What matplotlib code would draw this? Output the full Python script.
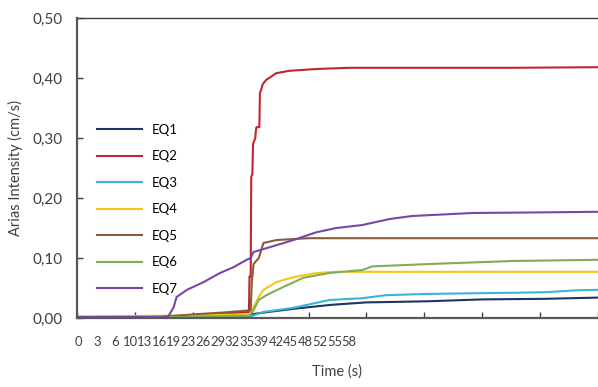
import matplotlib
matplotlib.use('Agg')
import matplotlib.pyplot as plt
from matplotlib.ticker import FuncFormatter

plt.rcParams['font.family'] = ['Lato', 'DejaVu Sans']

# Arias intensity build-up for each record, sampled at irregular steps
eq1_t = [0, 100, 200, 290, 300, 330, 380, 440, 500, 560, 610, 700, 810, 900]
eq1_ia = [0.001, 0.001, 0.002, 0.003, 0.006, 0.010, 0.016, 0.022, 0.026, 0.027, 0.028, 0.031, 0.032, 0.034]

eq2_t = [0, 150, 250, 297, 298, 300, 301, 303, 304, 308, 309, 310, 315, 316, 318, 321, 327, 335, 344, 367, 413, 471, 600, 750, 900]
eq2_ia = [0.000, 0.002, 0.007, 0.010, 0.069, 0.069, 0.235, 0.240, 0.290, 0.300, 0.313, 0.318, 0.318, 0.375, 0.380, 0.390,
          0.397, 0.402, 0.408, 0.412, 0.415, 0.417, 0.417, 0.417, 0.418]

eq3_t = [0, 200, 298, 322, 374, 436, 493, 534, 600, 666, 750, 810, 860, 900]
eq3_ia = [0.000, 0.001, 0.002, 0.010, 0.017, 0.030, 0.033, 0.038, 0.040, 0.041, 0.042, 0.043, 0.046, 0.047]

eq4_t = [0, 160, 200, 298, 305, 314, 322, 345, 374, 414, 448, 550, 700, 900]
eq4_ia = [0.002, 0.004, 0.005, 0.006, 0.018, 0.035, 0.047, 0.060, 0.068, 0.075, 0.077, 0.077, 0.077, 0.077]

eq5_t = [0, 150, 200, 250, 290, 300, 302, 305, 314, 322, 345, 400, 900]
eq5_ia = [0.000, 0.002, 0.006, 0.009, 0.012, 0.013, 0.060, 0.090, 0.100, 0.125, 0.130, 0.133, 0.133]

eq6_t = [0, 200, 298, 305, 314, 327, 357, 391, 436, 493, 510, 609, 752, 900]
eq6_ia = [0.000, 0.002, 0.004, 0.013, 0.030, 0.038, 0.052, 0.067, 0.075, 0.080, 0.086, 0.090, 0.095, 0.097]

eq7_t = [0, 150, 158, 167, 172, 190, 219, 247, 271, 293, 300, 305, 333, 374, 414, 448, 493, 540, 579, 683, 800, 900]
eq7_ia = [0.002, 0.002, 0.003, 0.018, 0.035, 0.047, 0.060, 0.075, 0.085, 0.097, 0.100, 0.110, 0.118, 0.130, 0.143,
          0.150, 0.155, 0.165, 0.170, 0.175, 0.176, 0.177]

series_names = ['EQ1', 'EQ2', 'EQ3', 'EQ4', 'EQ5', 'EQ6', 'EQ7']
time_labels = ['0', '3', '6', '10', '13', '16', '19', '23', '26', '29', '32', '35', '39', '42', '45', '48', '52', '55', '58']

colors = ['#1f3461', '#c0262c', '#3bb4d8', '#f2c715', '#8a5a3a', '#80ad55', '#7a45a8']
series = [(eq1_t, eq1_ia), (eq2_t, eq2_ia), (eq3_t, eq3_ia), (eq4_t, eq4_ia),
          (eq5_t, eq5_ia), (eq6_t, eq6_ia), (eq7_t, eq7_ia)]

fig = plt.figure(figsize=(5.98, 3.87), dpi=100)
ax = fig.add_axes([77 / 598, 1 - 318 / 387, 1 - 77 / 598, 300 / 387])

for (t, ia), name, c in zip(series, series_names, colors):
    ax.plot(t, ia, color=c, lw=1.5, label=name)

ax.set_xlim(0, 900)
ax.set_ylim(0, 0.5)
ax.set_yticks([0, 0.1, 0.2, 0.3, 0.4, 0.5])
ax.yaxis.set_major_formatter(FuncFormatter(lambda v, p: f'{v:.2f}'.replace('.', ',')))
ax.set_xticks(range(0, 901, 100))
ax.set_xticklabels([])

ax.tick_params(axis='both', direction='in', length=4, width=1, color='#404040',
               labelsize=11, labelcolor='#404040')
ax.tick_params(axis='y', pad=10)
for side in ['left', 'bottom']:
    ax.spines[side].set_color('#595959')
    ax.spines[side].set_linewidth(1.6)
ax.spines['top'].set_color('#404040')
ax.spines['top'].set_linewidth(1.0)
ax.spines['right'].set_visible(False)

# crammed category labels under the time axis
label_x = [1 / 521, 20 / 521, 38 / 521]
label_x += [(53 + 14.6 * i) / 521 for i in range(len(time_labels) - 3)]
for lx, lab in zip(label_x, time_labels):
    ax.text(lx, -0.08, lab, transform=ax.transAxes, ha='center', va='center',
            fontsize=9.4, color='#404040')

ax.set_ylabel('Arias Intensity (cm/s)', fontsize=10.5, color='#404040', labelpad=7)
ax.set_xlabel('Time (s)', fontsize=10.5, color='#404040', labelpad=30)

ax.legend(loc='upper left', bbox_to_anchor=(0.038, 0.647), frameon=False,
          borderpad=0, borderaxespad=0, fontsize=9.5, handlelength=3.4,
          handletextpad=0.8, labelspacing=1.1)

fig.savefig('out.png', dpi=100)
